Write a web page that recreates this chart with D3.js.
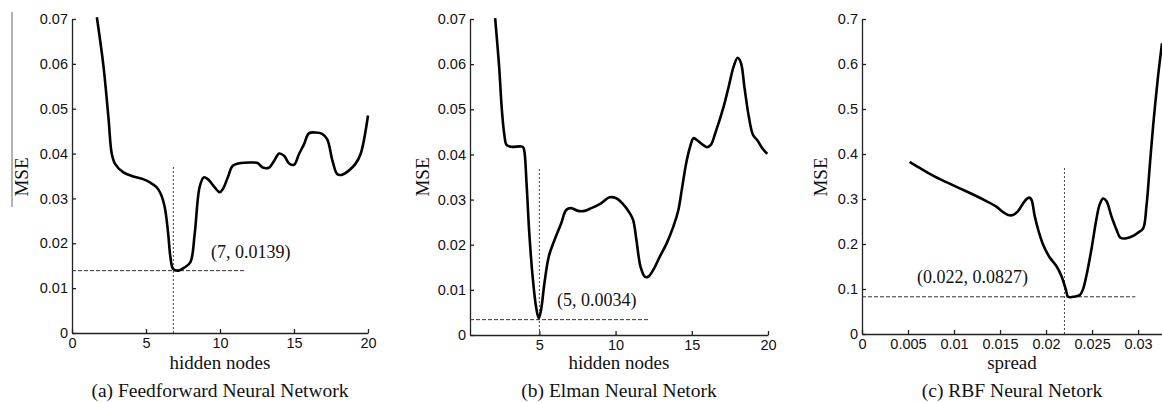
<!DOCTYPE html>
<meta charset="utf-8">
<style>
  body { margin: 0; background: #fff; }
  .axis path, .axis line { stroke: #222; stroke-width: 1.3px; }
  .axis text { font: 14.5px "Liberation Sans", Arial, sans-serif; fill: #111; }
  .curve { fill: none; stroke: #000; stroke-width: 2.6px; stroke-linejoin: round; }
  .guide-h { stroke: #333; stroke-width: 1px; stroke-dasharray: 4,2; }
  .guide-v { stroke: #444; stroke-width: 1px; stroke-dasharray: 2,2; }
  .serif { font-family: "Liberation Serif", "Times New Roman", serif; fill: #111; }
</style>
<svg width="1162" height="403"></svg>
<script src="https://cdn.jsdelivr.net/npm/d3@7"></script>
<script>

  // (a) feedforward network: MSE vs hidden nodes
  var ffnX = [1.68, 2.13, 2.46, 2.69, 2.91, 3.47, 4.14, 4.8, 5.26, 5.71, 6.0, 6.27, 6.5, 6.65, 6.83, 7.17, 7.6, 8.0,
    8.29, 8.62, 8.9, 9.18, 9.63, 9.97, 10.19, 10.53, 10.86, 11.42, 12.2, 12.54, 12.88, 13.33, 13.66, 14.0, 14.33,
    14.67, 15.0, 15.34, 15.68, 16.0, 16.46, 16.9, 17.24, 17.6, 17.93, 18.25, 18.7, 19.15, 19.5, 20];
  var ffnY = [0.0704, 0.0594, 0.0481, 0.0399, 0.0377, 0.0358, 0.0349, 0.0343, 0.0336, 0.0325, 0.031, 0.028, 0.0221,
    0.0169, 0.0143, 0.0139, 0.0146, 0.0158, 0.0221, 0.0325, 0.0347, 0.0343, 0.0325, 0.0314, 0.0321, 0.0347, 0.0373,
    0.0379, 0.038, 0.0379, 0.0369, 0.0369, 0.0384, 0.04, 0.0395, 0.0378, 0.0375, 0.0399, 0.0421, 0.0445, 0.0447,
    0.0444, 0.0432, 0.0384, 0.0354, 0.0353, 0.0362, 0.0377, 0.0399, 0.0485];

  // (b) Elman network
  var elmanX = [2.1, 2.36, 2.54, 2.69, 2.85, 3.13, 3.9, 4.0, 4.16, 4.34, 4.56, 4.78, 4.96, 5.11, 5.33, 5.62, 5.99,
    6.43, 6.76, 7.09, 7.53, 7.97, 8.41, 8.96, 9.62, 10.05, 10.49, 10.93, 11.15, 11.37, 11.64, 11.93, 12.14, 12.47,
    12.91, 13.35, 13.79, 14.12, 14.34, 14.63, 14.89, 15.11, 15.33, 15.66, 15.99, 16.25, 16.54, 17.09, 17.42, 17.75,
    18.01, 18.23, 18.45, 18.74, 19.02, 19.29, 19.62, 19.95];
  var elmanY = [0.0702, 0.0595, 0.0499, 0.0447, 0.0421, 0.0417, 0.0417, 0.041, 0.0336, 0.0225, 0.0129, 0.0063,
    0.0037, 0.0055, 0.0114, 0.0174, 0.021, 0.0247, 0.0277, 0.0281, 0.0275, 0.0275, 0.0281, 0.029, 0.0305, 0.0303,
    0.029, 0.027, 0.0255, 0.021, 0.0151, 0.0129, 0.0129, 0.0144, 0.0174, 0.0203, 0.024, 0.0277, 0.0321, 0.038,
    0.0417, 0.0436, 0.0432, 0.0423, 0.0416, 0.0421, 0.0447, 0.0506, 0.055, 0.0595, 0.0614, 0.0602, 0.055, 0.0484,
    0.0443, 0.0432, 0.0414, 0.0401];

  // (c) RBF network: MSE vs spread
  var rbfX = [0.00518, 0.00627, 0.00772, 0.00917, 0.01062, 0.01207, 0.01351, 0.0146, 0.01533, 0.01587, 0.01641,
    0.01696, 0.01768, 0.01815, 0.0184, 0.01877, 0.01924, 0.01967, 0.0204, 0.02112, 0.02167, 0.02214, 0.0224,
    0.02293, 0.02366, 0.02402, 0.02438, 0.02493, 0.02547, 0.02583, 0.0262, 0.02656, 0.0271, 0.02764, 0.02808,
    0.02873, 0.02946, 0.03, 0.03054, 0.03091, 0.03127, 0.03163, 0.03217, 0.0326];
  var rbfY = [0.3826, 0.369, 0.352, 0.3375, 0.3235, 0.31, 0.2954, 0.283, 0.271, 0.2644, 0.2644, 0.273, 0.2954,
    0.303, 0.299, 0.262, 0.225, 0.199, 0.17, 0.151, 0.129, 0.0997, 0.0827, 0.0827, 0.0864, 0.0997, 0.129, 0.188,
    0.255, 0.288, 0.301, 0.2954, 0.262, 0.2326, 0.214, 0.2127, 0.218, 0.2253, 0.234, 0.284, 0.373, 0.4616, 0.5724,
    0.646];

  // tick values and labels
  var hiddenTicksA = [0, 5, 10, 15, 20];
  var hiddenTicksB = [5, 10, 15, 20];
  var spreadTicks = [0, 0.005, 0.01, 0.015, 0.02, 0.025, 0.03];
  var spreadTickLabels = ["0", "0.005", "0.01", "0.015", "0.02", "0.025", "0.03"];
  var mseTicksSmall = [0, 0.01, 0.02, 0.03, 0.04, 0.05, 0.06, 0.07];
  var mseTickLabelsSmall = ["0", "0.01", "0.02", "0.03", "0.04", "0.05", "0.06", "0.07"];
  var mseTicksRbf = [0, 0.1, 0.2, 0.3, 0.4, 0.5, 0.6, 0.7];
  var mseTickLabelsRbf = ["0", "0.1", "0.2", "0.3", "0.4", "0.5", "0.6", "0.7"];

  // optimum markers: [x, y, end of horizontal guide, top of vertical guide]
  var optA = { x: 6.85, y: 0.0139, hEnd: 11.7, vTop: 0.0373, label: "(7, 0.0139)" };
  var optB = { x: 5, y: 0.0034, hEnd: 12.15, vTop: 0.0369, label: "(5, 0.0034)" };
  var optC = { x: 0.022, y: 0.0827, hEnd: 0.0297, vTop: 0.369, label: "(0.022, 0.0827)" };

  var svg = d3.select("svg");

  var panels = [
    { xs: ffnX, ys: ffnY, xDomain: [0, 20], yDomain: [0, 0.07], xRange: [72, 368], yRange: [333, 19],
      xTicks: hiddenTicksA, xLabels: hiddenTicksA.map(String), yTicks: mseTicksSmall, yLabels: mseTickLabelsSmall,
      opt: optA, labelPos: [211, 258], xTitle: "hidden nodes", title: "(a) Feedforward Neural Network", mseX: 22 },
    { xs: elmanX, ys: elmanY, xDomain: [0.45, 20], yDomain: [0, 0.07], xRange: [470, 768], yRange: [335, 19],
      xTicks: hiddenTicksB, xLabels: hiddenTicksB.map(String), yTicks: mseTicksSmall, yLabels: mseTickLabelsSmall,
      opt: optB, labelPos: [557, 306], xTitle: "hidden nodes", title: "(b) Elman Neural Netork", mseX: 423 },
    { xs: rbfX, ys: rbfY, xDomain: [0, 0.0326], xRange: [862, 1162], yDomain: [0, 0.7], yRange: [334, 19],
      xTicks: spreadTicks, xLabels: spreadTickLabels, yTicks: mseTicksRbf, yLabels: mseTickLabelsRbf,
      opt: optC, labelPos: [917, 283], xTitle: "spread", title: "(c) RBF Neural Netork", mseX: 821 }
  ];

  // stray rule left of panel (a) in the source figure
  svg.append("line")
    .attr("x1", 12).attr("x2", 12).attr("y1", 12).attr("y2", 207)
    .attr("stroke", "#666").attr("stroke-width", 1);

  panels.forEach(function (p) {
    var x = d3.scaleLinear().domain(p.xDomain).range(p.xRange);
    var y = d3.scaleLinear().domain(p.yDomain).range(p.yRange);
    var g = svg.append("g");

    g.append("g")
      .attr("class", "axis")
      .attr("transform", "translate(0," + p.yRange[0] + ")")
      .call(d3.axisBottom(x).tickValues(p.xTicks).tickSizeInner(-4).tickSizeOuter(0).tickPadding(5)
        .tickFormat(function (d, i) { return p.xLabels[i]; }));

    g.append("g")
      .attr("class", "axis")
      .attr("transform", "translate(" + p.xRange[0] + ",0)")
      .call(d3.axisLeft(y).tickValues(p.yTicks).tickSizeInner(-4).tickSizeOuter(0).tickPadding(4)
        .tickFormat(function (d, i) { return p.yLabels[i]; }));

    // guides at the optimum
    g.append("line").attr("class", "guide-h")
      .attr("x1", p.xRange[0]).attr("x2", x(p.opt.hEnd))
      .attr("y1", y(p.opt.y)).attr("y2", y(p.opt.y));
    g.append("line").attr("class", "guide-v")
      .attr("x1", x(p.opt.x)).attr("x2", x(p.opt.x))
      .attr("y1", p.yRange[0]).attr("y2", y(p.opt.vTop));

    var line = d3.line()
      .curve(d3.curveCatmullRom.alpha(0.5))
      .x(function (d) { return x(d[0]); })
      .y(function (d) { return y(d[1]); });

    g.append("path")
      .attr("class", "curve")
      .attr("d", line(d3.zip(p.xs, p.ys)));

    g.append("text").attr("class", "serif")
      .attr("x", p.labelPos[0]).attr("y", p.labelPos[1])
      .style("font-size", "18px")
      .text(p.opt.label);

    var cx = (p.xRange[0] + p.xRange[1]) / 2;
    g.append("text").attr("class", "serif")
      .attr("x", cx).attr("y", 369).attr("text-anchor", "middle")
      .style("font-size", "19px")
      .text(p.xTitle);
    g.append("text").attr("class", "serif")
      .attr("x", cx).attr("y", 397).attr("text-anchor", "middle")
      .style("font-size", "19.5px")
      .text(p.title);

    g.append("text").attr("class", "serif")
      .attr("transform", "translate(" + (p.mseX + 6) + ",177) rotate(-90)")
      .attr("text-anchor", "middle")
      .style("font-size", "19px")
      .text("MSE");
  });

</script>
